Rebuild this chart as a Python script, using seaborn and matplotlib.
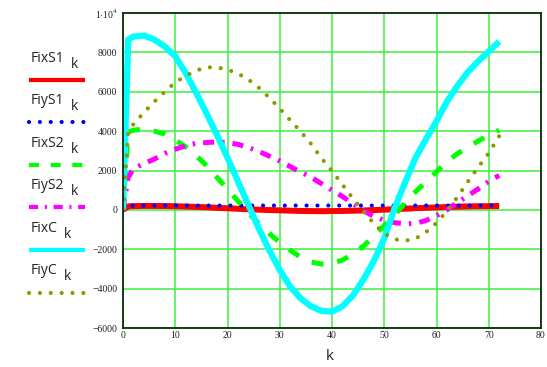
import numpy as np
import pandas as pd
import seaborn as sns
import matplotlib.pyplot as plt
from matplotlib.lines import Line2D
from matplotlib.ticker import FixedLocator, FixedFormatter

# k values (coarse sampling)
k = [0, 1, 2, 4, 6, 8, 10, 12, 14, 16, 18, 20, 22, 24, 26, 28, 30, 32, 34, 36,
     38, 40, 42, 44, 46, 48, 50, 52, 54, 56, 58, 60, 62, 64, 66, 68, 70, 72]

FixS1 = [0, 180, 190, 200, 200, 195, 185, 170, 150, 130, 105, 80, 55, 30, 10, -10,
         -25, -40, -55, -60, -65, -60, -55, -45, -30, -10, 10, 35, 60, 85, 105, 125,
         145, 160, 175, 185, 190, 195]
FiyS1 = [0, 200, 215, 220, 220, 220, 220, 220, 220, 220, 220, 220, 220, 220, 220, 220,
         220, 220, 220, 220, 220, 220, 220, 220, 220, 220, 220, 220, 220, 220, 220, 220,
         220, 220, 220, 220, 220, 220]
FixS2 = [0, 3950, 4050, 4100, 4000, 3850, 3550, 3200, 2750, 2250, 1650, 1050, 450,
         -150, -700, -1200, -1650, -2050, -2400, -2650, -2750, -2720, -2550, -2250,
         -1850, -1330, -800, -250, 350, 920, 1430, 1930, 2450, 2850, 3200, 3500, 3800, 4050]
FiyS2 = [0, 1650, 2100, 2350, 2580, 2870, 3080, 3260, 3380, 3420, 3450, 3420, 3330,
         3170, 2970, 2730, 2480, 2200, 1920, 1660, 1330, 1000, 680, 320, -40, -330,
         -530, -650, -710, -680, -540, -300, 0, 370, 720, 1070, 1450, 1750]
FixC = [0, 8650, 8800, 8850, 8650, 8300, 7800, 6950, 5950, 4900, 3800, 2650, 1450,
        250, -950, -2050, -3050, -3900, -4500, -4900, -5130, -5170, -4900, -4350,
        -3550, -2600, -1450, 100, 1400, 2650, 3600, 4500, 5500, 6300, 7000, 7550, 8050, 8550]
FiyC = [0, 3950, 4350, 4950, 5500, 6000, 6480, 6800, 7080, 7240, 7240, 7120, 6930,
        6620, 6200, 5700, 5150, 4550, 3980, 3350, 2620, 1980, 1280, 580, -80, -680,
        -1200, -1490, -1570, -1460, -1130, -660, -60, 650, 1430, 2180, 2880, 3750]

names = ["FixS1", "FiyS1", "FixS2", "FiyS2", "FixC", "FiyC"]
series = [FixS1, FiyS1, FixS2, FiyS2, FixC, FiyC]

yticks = [-6000, -4000, -2000, 0, 2000, 4000, 6000, 8000, 10000]
ylabels = ["\u22126000", "\u22124000", "\u22122000", "0", "2000", "4000", "6000",
           "8000", r"1$\cdot$10$^{\mathrm{4}}$"]
xticks = [0, 10, 20, 30, 40, 50, 60, 70, 80]

sns.set_theme(style="white")
plt.rcParams["font.family"] = ["Open Sans", "DejaVu Sans"]
plt.rcParams["mathtext.fontset"] = "custom"
plt.rcParams["mathtext.rm"] = "Liberation Serif"

# line styles, same order as names
styles = [
    dict(color="#ff0000", lw=4.3, ls="-", solid_capstyle="butt"),
    dict(color="#0000ff", lw=3.0, ls=(0, (0.01, 2.6)), dash_capstyle="round"),
    dict(color="#00ff00", lw=3.6, ls=(0, (2.4, 2.8)), dash_capstyle="butt"),
    dict(color="#ff00ff", lw=3.6, ls=(0, (2.2, 1.6, 0.5, 1.6)), dash_capstyle="butt"),
    dict(color="#00ffff", lw=4.5, ls="-", solid_capstyle="butt"),
    dict(color="#8c9900", lw=3.0, ls=(0, (0.01, 2.6)), dash_capstyle="round"),
]

W, H = 547, 367
fig = plt.figure(figsize=(W / 100, H / 100), dpi=100)
ax = fig.add_axes([123 / W, 1 - 328 / H, (541 - 123) / W, (328 - 13) / H])

df = pd.DataFrame({"k": k})
for n, s, st in zip(names, series, styles):
    df[n] = s
    sns.lineplot(data=df, x="k", y=n, ax=ax, **st)

ax.set_xlim(0, 80)
ax.set_ylim(-6000, 10000)
ax.xaxis.set_major_locator(FixedLocator(xticks))
ax.yaxis.set_major_locator(FixedLocator(yticks))
ax.yaxis.set_major_formatter(FixedFormatter(ylabels))
ax.set_axisbelow(True)
ax.grid(True, color="#3cf03c", lw=1.1)
ax.tick_params(length=0, labelsize=7, colors="#222222", pad=2)
ax.tick_params(axis="y", pad=4)
for lab in ax.get_xticklabels() + ax.get_yticklabels():
    lab.set_fontfamily("Liberation Serif")
for sp in ax.spines.values():
    sp.set_color("#0a2a0a")
    sp.set_linewidth(1.3)
ax.set_ylabel("")
ax.set_xlabel("")
# axis title "k" under the plot
fig.text(330 / W, 1 - 357 / H, "k", fontsize=11, ha="center", va="center", color="#222222")

# legend on the left, text with subscript k and a sample line beneath
def fx(px):
    return px / W

def fy(py):
    return 1 - py / H

for i, (n, st) in enumerate(zip(names, styles)):
    ty = 58 + i * 42.6
    t = fig.text(fx(31), fy(ty), n, fontsize=10, va="center", ha="left", color="#222222")
    fig.canvas.draw()
    bb = t.get_window_extent()
    fig.text(fx(bb.x1 + 6), fy(ty + 6), "k", fontsize=10, va="center", ha="left",
             color="#222222")
    ly = ty + 21.5
    lw = min(st["lw"], 3.0)
    fig.add_artist(Line2D([fx(29), fx(85)], [fy(ly), fy(ly)], transform=fig.transFigure,
                          color=st["color"], lw=lw, ls=st["ls"],
                          dash_capstyle=st.get("dash_capstyle", "butt"),
                          solid_capstyle="butt"))

fig.savefig("out.png", dpi=100)
